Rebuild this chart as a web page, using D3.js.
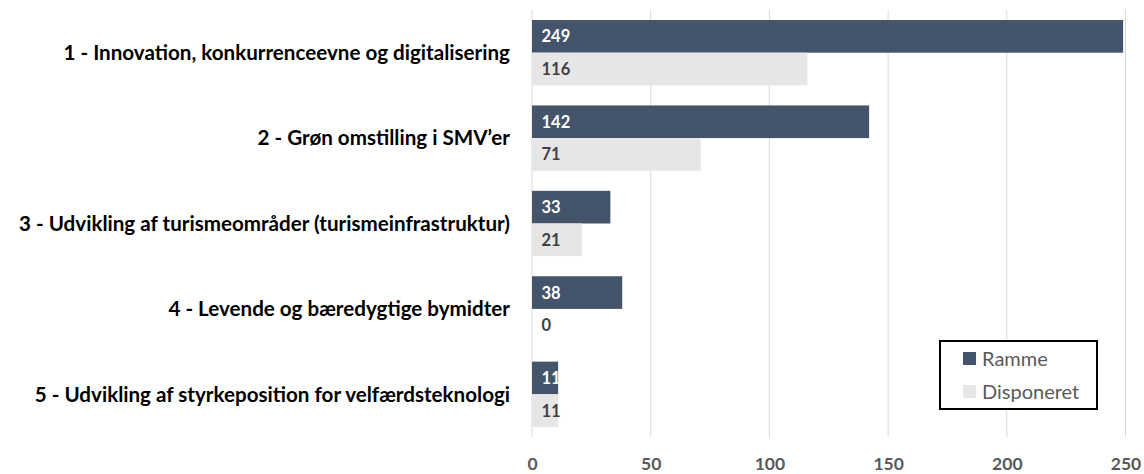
<!DOCTYPE html>
<html>
<head>
<meta charset="utf-8">
<script src="https://cdn.jsdelivr.net/npm/d3@7"></script>
<style>
  body { margin: 0; background: #fff; }
  text { font-family: Lato, "Open Sans", sans-serif; }
</style>
</head>
<body>
<div class="canvas"></div>
<script>
// data
const categories = [
    '1 - Innovation, konkurrenceevne og digitalisering',
    '2 - Grøn omstilling i SMV’er',
    '3 - Udvikling af turismeområder (turismeinfrastruktur)',
    '4 - Levende og bæredygtige bymidter',
    '5 - Udvikling af styrkeposition for velfærdsteknologi'
];
const ramme = [249, 142, 33, 38, 11];
const disponeret = [116, 71, 21, 0, 11];
const seriesNames = ['Ramme', 'Disponeret'];
const xTicks = [0, 50, 100, 150, 200, 250];

const colors = { Ramme: '#44546a', Disponeret: '#e7e6e6' };

const width = 1144, height = 474;
const margin = { top: 10, right: 18, bottom: 37, left: 532 };
const graphWidth = width - margin.left - margin.right;
const graphHeight = height - margin.top - margin.bottom;

const svg = d3.select('.canvas')
    .append('svg')
        .attr('width', width)
        .attr('height', height);

const graph = svg.append('g')
    .attr('transform', `translate(${margin.left}, ${margin.top})`);

const x = d3.scaleLinear()
    .domain([0, 250])
    .range([0, 593.5]);

const y = d3.scaleBand()
    .domain(categories)
    .range([0, graphHeight])
    .paddingInner(0.235)
    .paddingOuter(0.1175);

const inner = d3.scaleBand()
    .domain(seriesNames)
    .range([0, y.bandwidth()]);

// gridlines
graph.selectAll('line.grid')
    .data(xTicks)
    .enter()
    .append('line')
        .attr('class', 'grid')
        .attr('x1', d => x(d))
        .attr('x2', d => x(d))
        .attr('y1', 0)
        .attr('y2', graphHeight)
        .attr('stroke', '#d9d9d9')
        .attr('stroke-width', 1);

// bars
const rows = categories.map((c, i) => ({ cat: c, Ramme: ramme[i], Disponeret: disponeret[i] }));

const groups = graph.selectAll('g.row')
    .data(rows)
    .enter()
    .append('g')
        .attr('class', 'row')
        .attr('transform', d => `translate(0, ${y(d.cat)})`);

groups.selectAll('rect')
    .data(d => seriesNames.map(s => ({ key: s, value: d[s] })))
    .enter()
    .append('rect')
        .attr('x', x(0))
        .attr('y', d => inner(d.key))
        .attr('width', d => x(d.value) - x(0))
        .attr('height', inner.bandwidth())
        .attr('fill', d => colors[d.key]);

groups.selectAll('text.val')
    .data(d => seriesNames.map(s => ({ key: s, value: d[s] })))
    .enter()
    .append('text')
        .attr('class', 'val')
        .attr('x', x(0) + 9.5)
        .attr('y', d => inner(d.key) + inner.bandwidth() / 2)
        .attr('dy', '0.36em')
        .attr('font-size', 16.5)
        .attr('font-weight', 'bold')
        .attr('fill', d => d.key === 'Ramme' ? '#ffffff' : '#404040')
        .text(d => d.value);

// category labels
graph.selectAll('text.cat')
    .data(categories)
    .enter()
    .append('text')
        .attr('class', 'cat')
        .attr('x', -22)
        .attr('y', d => y(d) + y.bandwidth() / 2)
        .attr('dy', '0.35em')
        .attr('text-anchor', 'end')
        .attr('font-size', 20.6)
        .attr('font-weight', 'bold')
        .attr('fill', '#000')
        .text(d => d);

// x axis
const xAxisGroup = graph.append('g')
    .attr('transform', `translate(0, ${graphHeight})`);
const xAxis = d3.axisBottom(x)
    .tickValues(xTicks)
    .tickSize(0)
    .tickPadding(21);
xAxisGroup.call(xAxis);
xAxisGroup.select('.domain').remove();
xAxisGroup.selectAll('text')
    .attr('font-family', 'Lato, "Open Sans", sans-serif')
    .attr('font-size', 17.5)
    .attr('font-weight', 'bold')
    .attr('fill', '#595959');

// legend
const legend = svg.append('g')
    .attr('transform', 'translate(940, 341)');
legend.append('rect')
    .attr('width', 157)
    .attr('height', 68)
    .attr('fill', '#fff')
    .attr('stroke', '#000')
    .attr('stroke-width', 2);
seriesNames.forEach((s, i) => {
    legend.append('rect')
        .attr('x', 23)
        .attr('y', 11 + i * 33)
        .attr('width', 13)
        .attr('height', 13)
        .attr('fill', colors[s]);
    legend.append('text')
        .attr('x', 42)
        .attr('y', 17.5 + i * 33)
        .attr('dy', '0.35em')
        .attr('font-size', 20)
        .attr('fill', '#595959')
        .text(s);
});
</script>
</body>
</html>
